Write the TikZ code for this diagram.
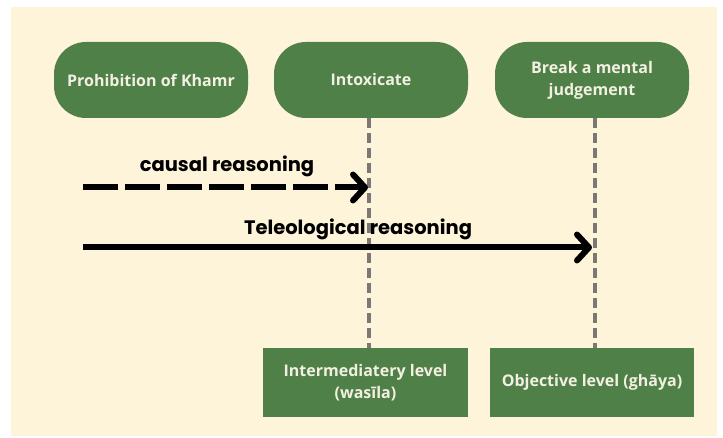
\documentclass[tikz,border=0pt]{standalone}
\usepackage{fontspec}
\setmainfont{Open Sans}
\newfontfamily\labelfont{Poppins}
\usetikzlibrary{arrows.meta}
\definecolor{cream}{HTML}{FEF4D9}
\definecolor{leaf}{HTML}{4F8048}
\definecolor{paletext}{HTML}{F3F0E2}
\definecolor{guide}{HTML}{7B7774}
\tikzset{
  pill/.style={fill=leaf, draw=none, rounded corners=32pt, minimum width=194pt,
    minimum height=76pt, inner sep=0pt, text=paletext, align=center,
    font=\fontsize{16}{22}\selectfont\bfseries},
  levelbox/.style={fill=leaf, draw=none, minimum height=69pt, inner sep=0pt,
    text=paletext, align=center, font=\fontsize{16}{22}\selectfont\bfseries},
  guideline/.style={draw=guide, line width=4pt, dash pattern=on 10pt off 5pt},
  reason/.style={line width=6pt, -{Straight Barb[length=12pt,width=26pt,round]}},
  reasonlabel/.style={font=\labelfont\fontsize{19.5}{22}\selectfont\bfseries, inner sep=0pt}
}
\begin{document}
\begin{tikzpicture}[x=1pt, y=-1pt]
  \useasboundingbox (0,0) rectangle (723,438);
  \fill[white] (0,0) rectangle (723,438);
  \fill[cream] (11,7) rectangle (717,436);

  % top row of concepts
  \node[pill] (khamr) at (151,80) {Prohibition of Khamr};
  \node[pill] (intox) at (371,80) {Intoxicate};
  \node[pill] (judge) at (592,80) {Break a mental\\judgement};

  % bottom row of levels
  \node[levelbox, minimum width=205pt] (wasila) at (365.5,382.5) {Intermediatery level\\(wasīla)};
  \node[levelbox, minimum width=204pt] (ghaya) at (592,382.5) {Objective level (ghāya)};

  % dashed guides from concepts to levels
  \draw[guideline] (intox.south -| 369,0) -- (wasila.north -| 369,0);
  \draw[guideline] (judge.south -| 595,0) -- (ghaya.north -| 595,0);

  % reasoning arrows
  \coordinate (causalstart) at (83,187.5);
  \coordinate (causalend) at (368,187.5);
  \coordinate (telostart) at (83,247.5);
  \coordinate (teloend) at (592,247.5);
  \draw[reason, dash pattern=on 35pt off 7pt] (causalstart) -- (causalend);
  \draw[reason] (telostart) -- (teloend);

  \node[reasonlabel] (causallabel) at (227,166) {causal reasoning};
  \node[reasonlabel] (telolabel) at (358,229) {Teleological reasoning};
\end{tikzpicture}
\end{document}
